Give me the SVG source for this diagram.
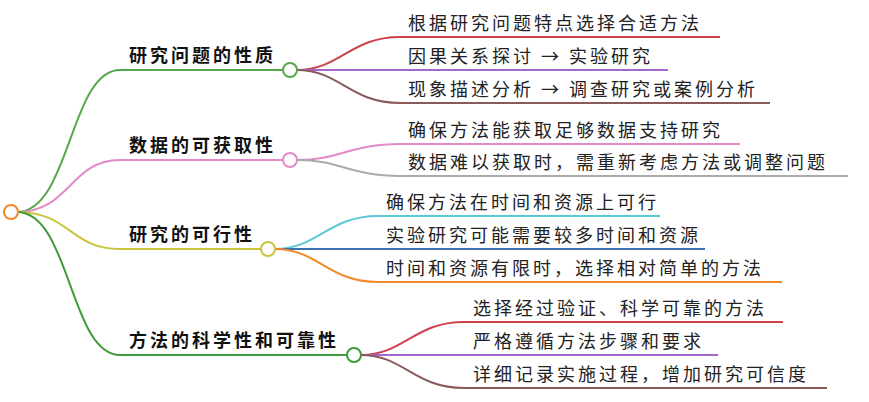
<svg xmlns="http://www.w3.org/2000/svg" width="869" height="402" viewBox="0 0 869 402">
<style>
.c{fill:none;stroke-width:2}
.b{font-family:"Noto Sans CJK SC",sans-serif;font-size:18px;font-weight:bold;fill:#111;letter-spacing:3px}
.l{font-family:"Noto Sans CJK SC",sans-serif;font-size:18px;fill:#222;letter-spacing:3px}
.n{fill:#fff;stroke-width:2}
</style>
<rect width="869" height="402" fill="#fff"/>
<g id="connectors">
<path class="c" stroke="#55a84a" d="M17 212 C70 212 70 70 120 70 H283"/>
<path class="c" stroke="#e38ac8" d="M17 212 C70 212 70 160 120 160 H283"/>
<path class="c" stroke="#c9c43c" d="M17 212 C70 212 70 249 120 249 H261"/>
<path class="c" stroke="#3f9b3a" d="M17 212 C70 212 70 355 120 355 H347"/>
<path class="c" stroke="#d0414f" d="M297 70 C340 70 350 37 400 37 H720"/>
<path class="c" stroke="#a667cc" d="M297 70 H668"/>
<path class="c" stroke="#8a5a5a" d="M297 70 C340 70 350 103 400 103 H770"/>
<path class="c" stroke="#e38ac8" d="M297 160 C340 160 350 144 400 144 H740"/>
<path class="c" stroke="#aaa" d="M297 160 C340 160 350 176 400 176 H848"/>
<path class="c" stroke="#5bc8d8" d="M275 249 C318 249 328 216 378 216 H660"/>
<path class="c" stroke="#3a72b0" d="M275 249 H705"/>
<path class="c" stroke="#f08a2a" d="M275 249 C318 249 328 282 378 282 H782"/>
<path class="c" stroke="#d0414f" d="M361 355 C404 355 414 322 464 322 H783"/>
<path class="c" stroke="#a667cc" d="M361 355 H718"/>
<path class="c" stroke="#8a5a5a" d="M361 355 C404 355 414 388 464 388 H827"/>
</g>
<g id="root"><circle class="n" cx="11" cy="212" r="7" stroke="#f08a2a"/></g>
<g id="n1"><text class="b" x="129" y="62">研究问题的性质</text><circle class="n" cx="290" cy="70" r="7" stroke="#55a84a"/></g>
<g id="n2"><text class="b" x="129" y="152">数据的可获取性</text><circle class="n" cx="290" cy="160" r="7" stroke="#e38ac8"/></g>
<g id="n3"><text class="b" x="129" y="241">研究的可行性</text><circle class="n" cx="268" cy="249" r="7" stroke="#c9c43c"/></g>
<g id="n4"><text class="b" x="129" y="347">方法的科学性和可靠性</text><circle class="n" cx="354" cy="355" r="7" stroke="#3f9b3a"/></g>
<g id="leaves">
<text class="l" x="408" y="30">根据研究问题特点选择合适方法</text>
<text class="l" x="408" y="63">因果关系探讨 → 实验研究</text>
<text class="l" x="408" y="96">现象描述分析 → 调查研究或案例分析</text>
<text class="l" x="408" y="137">确保方法能获取足够数据支持研究</text>
<text class="l" x="408" y="169">数据难以获取时，需重新考虑方法或调整问题</text>
<text class="l" x="386" y="209">确保方法在时间和资源上可行</text>
<text class="l" x="386" y="242">实验研究可能需要较多时间和资源</text>
<text class="l" x="386" y="275">时间和资源有限时，选择相对简单的方法</text>
<text class="l" x="473" y="315">选择经过验证、科学可靠的方法</text>
<text class="l" x="473" y="348">严格遵循方法步骤和要求</text>
<text class="l" x="473" y="381">详细记录实施过程，增加研究可信度</text>
</g>
</svg>
